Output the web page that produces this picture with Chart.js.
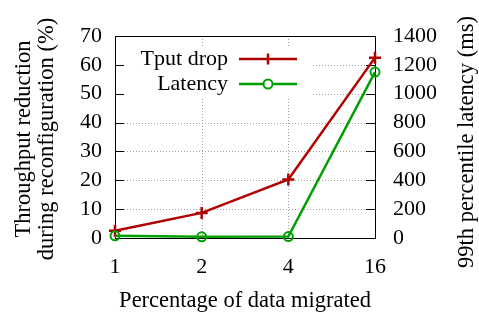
<!DOCTYPE html>
<html><head><meta charset="utf-8">
<script src="https://cdn.jsdelivr.net/npm/chart.js@4.4.0/dist/chart.umd.min.js"></script>
<style>html,body{margin:0;padding:0;background:#fff}canvas{display:block}</style>
</head><body>
<canvas id="c" width="479" height="314"></canvas>
<script>
const categories = ['1', '2', '4', '16'];
const tputDrop = [2.5, 8.7, 20.3, 62.5];
const latency = [15, 8, 10, 1150];
const leftTicks = [0, 10, 20, 30, 40, 50, 60, 70];
const rightTicks = [0, 200, 400, 600, 800, 1000, 1200, 1400];
const seriesNames = ['Tput drop', 'Latency'];
const xTitle = 'Percentage of data migrated';
const yTitle = ['Throughput reduction', 'during reconfiguration (%)'];
const y2Title = '99th percentile latency (ms)';

const RED = '#b00000', GREEN = '#00a000';
const FONT = '"Liberation Serif", "Times New Roman", serif';
const fs = 22;
const tfs = 22.5;

const decor = {
  id: 'decor',
  beforeDatasetsDraw(chart) {
    const {ctx, chartArea: a, scales} = chart;
    ctx.save();
    // grid
    ctx.strokeStyle = '#a0a0a0';
    ctx.lineWidth = 1;
    ctx.setLineDash([1, 2]);
    leftTicks.forEach(v => {
      if (v === 0 || v === 70) return;
      const y = Math.round(scales.y.getPixelForValue(v)) + 0.5;
      ctx.beginPath(); ctx.moveTo(a.left, y); ctx.lineTo(a.right, y); ctx.stroke();
    });
    categories.forEach((c, i) => {
      if (i === 0 || i === categories.length - 1) return;
      const x = Math.round(scales.x.getPixelForValue(i)) + 0.5;
      ctx.beginPath(); ctx.moveTo(x, a.top); ctx.lineTo(x, a.bottom); ctx.stroke();
    });
    ctx.setLineDash([]);
    // legend box (opaque)
    ctx.fillStyle = '#fff';
    ctx.fillRect(a.left + 8, 47, 190, 51);
    // frame
    ctx.strokeStyle = '#000';
    ctx.lineWidth = 1;
    ctx.strokeRect(Math.round(a.left) + 0.5, Math.round(a.top) + 0.5,
      Math.round(a.right - a.left), Math.round(a.bottom - a.top));
    // inward ticks
    leftTicks.forEach(v => {
      const y = Math.round(scales.y.getPixelForValue(v)) + 0.5;
      ctx.beginPath(); ctx.moveTo(a.left, y); ctx.lineTo(a.left + 9, y); ctx.stroke();
    });
    rightTicks.forEach(v => {
      const y = Math.round(scales.y1.getPixelForValue(v)) + 0.5;
      ctx.beginPath(); ctx.moveTo(a.right, y); ctx.lineTo(a.right - 9, y); ctx.stroke();
    });
    // legend
    ctx.font = fs + 'px ' + FONT;
    ctx.fillStyle = '#000';
    ctx.textAlign = 'right';
    ctx.textBaseline = 'middle';
    const rows = [59, 84];
    ctx.fillText(seriesNames[0], 228, rows[0]);
    ctx.fillText(seriesNames[1], 228, rows[1]);
    ctx.lineWidth = 2.5;
    ctx.strokeStyle = RED;
    ctx.beginPath(); ctx.moveTo(239, rows[0]); ctx.lineTo(297, rows[0]); ctx.stroke();
    ctx.beginPath(); ctx.moveTo(268, rows[0] - 5.5); ctx.lineTo(268, rows[0] + 5.5); ctx.stroke();
    ctx.strokeStyle = GREEN;
    ctx.beginPath(); ctx.moveTo(239, rows[1]); ctx.lineTo(297, rows[1]); ctx.stroke();
    ctx.lineWidth = 2;
    ctx.beginPath(); ctx.arc(268, rows[1], 4.5, 0, Math.PI * 2); ctx.fillStyle = '#fff'; ctx.fill(); ctx.stroke();
    // titles
    ctx.font = tfs + 'px ' + FONT;
    ctx.fillStyle = '#000';
    ctx.textAlign = 'center';
    ctx.textBaseline = 'middle';
    ctx.save(); ctx.translate(24.5, 139); ctx.rotate(-Math.PI / 2);
    ctx.fillText(yTitle[0], 0, 0); ctx.restore();
    ctx.save(); ctx.translate(47.5, 139); ctx.rotate(-Math.PI / 2);
    ctx.fillText(yTitle[1], 0, 0); ctx.restore();
    ctx.save(); ctx.translate(467, 142); ctx.rotate(-Math.PI / 2);
    ctx.fillText(y2Title, 0, 0); ctx.restore();
    ctx.fillText(xTitle, (a.left + a.right) / 2, 301);
    ctx.restore();
  }
};

const tickFont = { family: FONT, size: fs };
new Chart(document.getElementById('c'), {
  type: 'line',
  data: {
    labels: categories,
    datasets: [
      {
        label: seriesNames[1], data: latency, yAxisID: 'y1', order: 0,
        borderColor: GREEN, borderWidth: 2.5, pointStyle: 'circle', pointRadius: 4.5,
        pointBorderWidth: 2, pointBorderColor: GREEN, pointBackgroundColor: 'rgba(0,0,0,0)',
        tension: 0, clip: false
      },
      {
        label: seriesNames[0], data: tputDrop, yAxisID: 'y', order: 1,
        borderColor: RED, borderWidth: 2.5, pointStyle: 'cross', pointRadius: 6,
        pointBorderWidth: 2.5, pointBorderColor: RED, pointBackgroundColor: RED,
        tension: 0, clip: false
      }
    ]
  },
  options: {
    responsive: false, animation: false, devicePixelRatio: 1,
    layout: { padding: { top: 36, left: 0, right: 0, bottom: 0 } },
    plugins: { legend: { display: false }, tooltip: { enabled: false } },
    scales: {
      x: {
        type: 'category', offset: false,
        grid: { display: false }, border: { display: false },
        ticks: { color: '#000', font: tickFont, padding: 8, maxRotation: 0, autoSkip: false },
        afterFit(s) { s.height = 76; }
      },
      y: {
        position: 'left', min: 0, max: 70,
        grid: { display: false }, border: { display: false },
        afterBuildTicks(s) { s.ticks = leftTicks.map(v => ({ value: v })); },
        ticks: { color: '#000', font: tickFont, padding: 5, autoSkip: false, callback: v => String(v) },
        afterFit(s) { s.width = 115; }
      },
      y1: {
        position: 'right', min: 0, max: 1400,
        grid: { display: false }, border: { display: false },
        afterBuildTicks(s) { s.ticks = rightTicks.map(v => ({ value: v })); },
        ticks: { color: '#000', font: tickFont, padding: 10, autoSkip: false, callback: v => String(v) },
        afterFit(s) { s.width = 104; }
      }
    }
  },
  plugins: [decor]
});
</script>
</body></html>
